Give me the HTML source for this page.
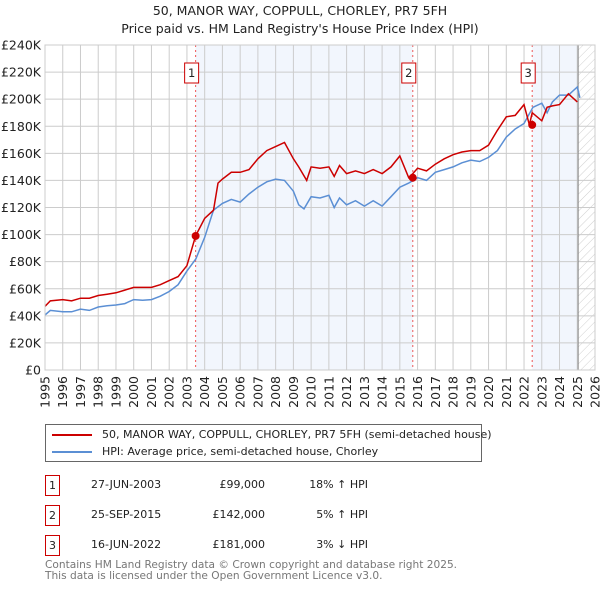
<!DOCTYPE html>
<html><head><meta charset="utf-8"><style>
body{margin:0;background:#fff;width:600px;height:590px;overflow:hidden;font-family:"DejaVu Sans","Liberation Sans",sans-serif;}
svg{position:absolute;left:0;top:0}
.r div{white-space:nowrap}
</style></head><body>
<svg id="c" width="600" height="590" xmlns="http://www.w3.org/2000/svg"></svg>
<script>
const hpiYears=[1995,1995.3,1996,1996.5,1997,1997.5,1998,1998.5,1999,1999.5,2000,2000.5,2001,2001.5,2002,2002.5,2003,2003.5,2004,2004.5,2005,2005.5,2006,2006.5,2007,2007.5,2008,2008.5,2009,2009.3,2009.6,2010,2010.5,2011,2011.3,2011.6,2012,2012.5,2013,2013.5,2014,2014.5,2015,2015.5,2015.75,2016,2016.5,2017,2017.5,2018,2018.5,2019,2019.5,2020,2020.5,2021,2021.5,2022,2022.5,2023,2023.3,2023.6,2024,2024.5,2025,2025.15];
const hpiValues=[40.6,44,43,43,45,44,46.5,47.5,48,49,52,51.5,52,54.5,58,63,73,82,98,118,123,126,124,130,135,139,141,140,132,122,119,128,127,129,120,127,122,125,121,125,121,128,135,138,140,142,140,146,148,150,153,155,154,157,162,172,178,182,194,197,190,198,203,203,209,201];
const redYears=[1995,1995.3,1996,1996.5,1997,1997.5,1998,1998.5,1999,1999.5,2000,2000.5,2001,2001.5,2002,2002.5,2003,2003.49,2004,2004.5,2004.75,2005,2005.5,2006,2006.5,2007,2007.5,2008,2008.5,2009,2009.3,2009.75,2010,2010.5,2011,2011.3,2011.6,2012,2012.5,2013,2013.5,2014,2014.5,2015,2015.5,2015.73,2016,2016.5,2017,2017.5,2018,2018.5,2019,2019.5,2020,2020.5,2021,2021.5,2022,2022.3,2022.46,2023,2023.3,2023.6,2024,2024.5,2025,2025.15];
const redValues=[47,51,52,51,53,53,55,56,57,59,61,61,61,63,66,69,77,99,112,118,138,141,146,146,148,156,162,165,168,156,150,140,150,149,150,143,151,145,147,145,148,145,150,158,142,145,149,147,152,156,159,161,162,162,166,177,187,188,196,181,190,184,194,195,196,204,198];
const yTicks=[0,20,40,60,80,100,120,140,160,180,200,220,240];
const xTicks=[];for(let y=1995;y<=2026;y++)xTicks.push(y);
const sales=[{n:"1",t:2003.49,v:99},{n:"2",t:2015.73,v:142},{n:"3",t:2022.46,v:181}];
const X0=45,X1=595,Y0=370,Y1=45,dataEnd=2025.05;
const xs=t=>X0+(t-1995)/(2026-1995)*(X1-X0);
const ys=v=>Y0-v/240*(Y0-Y1);
const svg=document.getElementById('c');const NS="http://www.w3.org/2000/svg";
function mk(tag,at,txt){const e=document.createElementNS(NS,tag);for(const k in at)e.setAttribute(k,at[k]);if(txt!=null)e.textContent=txt;svg.appendChild(e);return e;}
let e;
e=mk('text',{x:300,y:15,'text-anchor':'middle','font-size':12.5,fill:'#222'},'50, MANOR WAY, COPPULL, CHORLEY, PR7 5FH');


e=mk('text',{x:300,y:33,'text-anchor':'middle','font-size':12.5,fill:'#222'},"Price paid vs. HM Land Registry's House Price Index (HPI)");


e=mk('rect',{x:xs(sales[0].t),y:Y1,width:xs(sales[1].t)-xs(sales[0].t),height:Y0-Y1,fill:'#eef3fc',opacity:0.75});


e=mk('rect',{x:xs(sales[2].t),y:Y1,width:xs(dataEnd)-xs(sales[2].t),height:Y0-Y1,fill:'#eef3fc',opacity:0.75});


const defs=mk('defs',{});
defs.innerHTML='<pattern id="h" width="6" height="6" patternUnits="userSpaceOnUse" patternTransform="rotate(45)"><line x1="0" y1="0" x2="0" y2="6" stroke="#bbb" stroke-width="0.7"/></pattern>';
e=mk('rect',{x:xs(dataEnd),y:Y1,width:X1-xs(dataEnd),height:Y0-Y1,fill:'url(#h)'});


yTicks.forEach(v=>{
 e=mk('line',{x1:X0,x2:X1,y1:ys(v),y2:ys(v),stroke:'#ccc','stroke-width':1});
 
 
 e=mk('text',{x:X0-4,y:ys(v)+4.5,'text-anchor':'end','font-size':12.5,fill:'#222'},v===0?'£0':'£'+v+'K');
 
 
});
xTicks.forEach(t=>{
 e=mk('line',{x1:xs(t),x2:xs(t),y1:Y1,y2:Y0,stroke:'#ccc','stroke-width':1});
 
 
 e=mk('text',{x:0,y:0,'text-anchor':'end','font-size':12.5,fill:'#222',transform:`translate(${xs(t)+4.5},376) rotate(-90)`},String(t));
 
 
});
e=mk('line',{x1:xs(dataEnd),x2:xs(dataEnd),y1:Y1,y2:Y0,stroke:'#888','stroke-width':1});


sales.forEach(s=>{
 e=mk('line',{x1:xs(s.t),x2:xs(s.t),y1:Y1,y2:Y0,stroke:'#e55','stroke-width':1,'stroke-dasharray':'2,3'});
 
 
});
function pts(a,b){return a.map((t,i)=>xs(t).toFixed(1)+','+ys(b[i]).toFixed(1)).join(' ');}
e=mk('polyline',{points:pts(hpiYears,hpiValues),fill:'none',stroke:'#5b8fd4','stroke-width':1.5});


e=mk('polyline',{points:pts(redYears,redValues),fill:'none',stroke:'#cc0000','stroke-width':1.5});


sales.forEach(s=>{
 e=mk('circle',{cx:xs(s.t),cy:ys(s.v),r:4,fill:'#cc0000'});
 
 
 e=mk('rect',{x:xs(s.t)-11,y:63,width:14,height:20,fill:'#fff',stroke:'#cc0000','stroke-width':1});
 
 
 e=mk('text',{x:xs(s.t)-4,y:77,'text-anchor':'middle','font-size':11.5,fill:'#222'},s.n);
 
 
});
e=mk('rect',{x:X0,y:Y1,width:X1-X0,height:Y0-Y1,fill:'none',stroke:'#ccc'});


</script>
<div style="position:absolute;left:45px;top:424px;width:435px;height:36px;border:1px solid #666;font-size:11px;color:#222">
 <div style="position:absolute;left:6px;top:3px;white-space:nowrap"><span style="display:inline-block;width:40px;height:2px;background:#cc0000;vertical-align:middle;margin-right:10px"></span>50, MANOR WAY, COPPULL, CHORLEY, PR7 5FH (semi-detached house)</div>
 <div style="position:absolute;left:6px;top:20px;white-space:nowrap"><span style="display:inline-block;width:40px;height:2px;background:#5b8fd4;vertical-align:middle;margin-right:10px"></span>HPI: Average price, semi-detached house, Chorley</div>
</div>
<div class="r" style="position:absolute;left:0;top:0;font-size:11px;color:#222">
 <div>
  <div style="position:absolute;left:45px;top:475px;width:13px;height:19px;border:1px solid #cc0000;text-align:center;line-height:19px">1</div>
  <div style="position:absolute;left:91px;top:478px">27-JUN-2003</div>
  <div style="position:absolute;left:165px;width:100px;text-align:right;top:478px">£99,000</div>
  <div style="position:absolute;left:268px;width:100px;text-align:right;top:478px">18% ↑ HPI</div>
 </div>
 <div>
  <div style="position:absolute;left:45px;top:505px;width:13px;height:19px;border:1px solid #cc0000;text-align:center;line-height:19px">2</div>
  <div style="position:absolute;left:91px;top:508px">25-SEP-2015</div>
  <div style="position:absolute;left:165px;width:100px;text-align:right;top:508px">£142,000</div>
  <div style="position:absolute;left:268px;width:100px;text-align:right;top:508px">5% ↑ HPI</div>
 </div>
 <div>
  <div style="position:absolute;left:45px;top:535px;width:13px;height:19px;border:1px solid #cc0000;text-align:center;line-height:19px">3</div>
  <div style="position:absolute;left:91px;top:538px">16-JUN-2022</div>
  <div style="position:absolute;left:165px;width:100px;text-align:right;top:538px">£181,000</div>
  <div style="position:absolute;left:268px;width:100px;text-align:right;top:538px">3% ↓ HPI</div>
 </div>
</div>
<div style="position:absolute;left:45px;top:560px;font-size:10.6px;line-height:11px;color:#777;white-space:nowrap">Contains HM Land Registry data © Crown copyright and database right 2025.<br>This data is licensed under the Open Government Licence v3.0.</div>
</body></html>
